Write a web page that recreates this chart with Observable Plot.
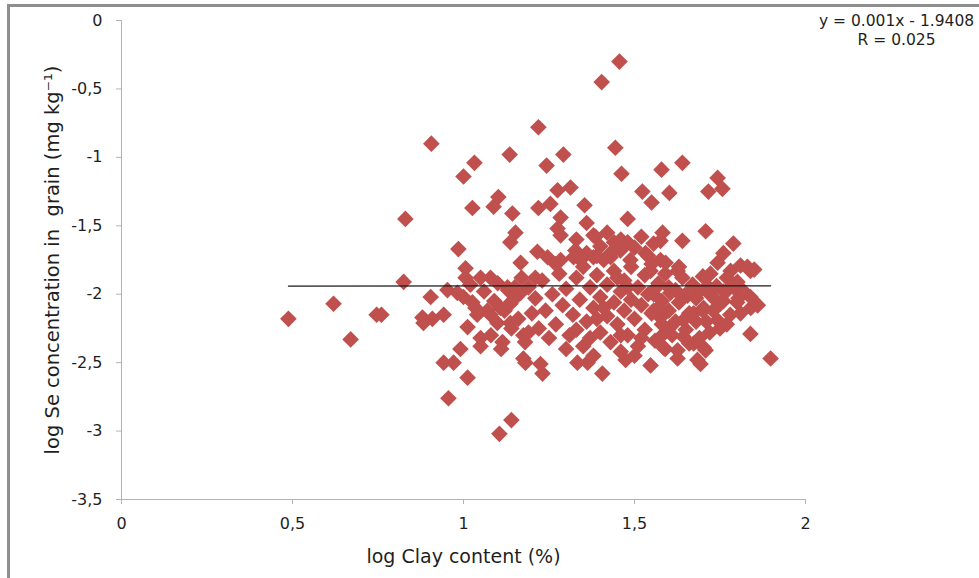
<!DOCTYPE html>
<html>
<head>
<meta charset="utf-8">
<script src="https://cdn.jsdelivr.net/npm/d3@7"></script>
<script src="https://cdn.jsdelivr.net/npm/@observablehq/plot@0.6"></script>
<style>
  html, body { margin: 0; padding: 0; background: #fff; overflow: hidden; }
  #chart { position: absolute; left: 0; top: 0; }
  #frame { position: absolute; left: 7px; top: 4px; width: 1000px; height: 600px;
           border-left: 3px solid #8e8e8e; border-top: 3px solid #8e8e8e; pointer-events: none; }
  svg text { white-space: pre; }
</style>
</head>
<body>
<div id="chart"></div>
<div id="frame"></div>
<script>
// Scattered samples: log clay content (%) and log Se in grain (mg/kg)
const clayOuter = [
  0.488, 0.620, 0.670, 0.746, 0.760, 0.825, 0.830, 0.906, 1.404, 1.456,
  1.219, 1.444, 1.135, 1.292, 1.243, 1.032, 1.000, 1.026, 1.102, 1.088,
  1.143, 1.152, 1.137, 0.985, 1.167, 1.219, 1.254, 1.275, 1.313, 1.284,
  1.275, 1.284, 1.216, 1.246, 1.284, 1.322, 1.006, 1.050, 1.079, 1.462,
  1.579, 1.640, 1.743, 1.716, 1.757, 1.523, 1.550, 1.602, 1.354, 1.480,
  1.708, 1.386, 1.440, 1.480, 1.582, 1.640, 1.556, 1.789, 1.760, 1.810,
  1.839, 1.743, 1.626, 1.327, 1.342, 1.380, 1.430, 1.459, 1.488, 1.532,
  1.576, 1.576, 1.547, 1.006, 0.953, 0.904, 0.982, 1.000, 1.026, 1.035,
  1.129, 1.137, 1.108, 1.167, 0.880, 0.909, 0.942, 0.883, 1.012, 1.079,
  1.099, 1.137, 1.050, 1.114, 1.175, 0.991, 0.942, 0.971, 1.175, 1.012,
  0.956, 1.140, 1.105, 1.181, 1.225, 1.231, 1.333, 1.363, 1.406, 1.474,
  1.547, 1.693, 1.626, 1.898, 1.839, 1.591, 1.830, 1.839, 1.860, 1.810,
  1.708, 1.684, 1.585, 1.556, 1.605, 1.655, 1.713, 1.772, 1.804, 1.751,
  1.702, 1.673, 1.643, 1.743, 1.605, 1.643, 1.673, 1.702, 1.585, 1.626,
  1.556, 1.576, 1.801, 1.722, 1.781, 1.210
];
const seOuter = [
  -2.18, -2.07, -2.33, -2.15, -2.15, -1.91, -1.45, -0.90, -0.45, -0.30,
  -0.78, -0.93, -0.98, -0.98, -1.06, -1.04, -1.14, -1.37, -1.29, -1.36,
  -1.41, -1.55, -1.62, -1.67, -1.77, -1.37, -1.34, -1.24, -1.22, -1.44,
  -1.52, -1.57, -1.69, -1.73, -1.75, -1.73, -1.81, -1.88, -1.88, -1.12,
  -1.09, -1.04, -1.15, -1.25, -1.23, -1.25, -1.33, -1.26, -1.35, -1.45,
  -1.54, -1.58, -1.62, -1.62, -1.55, -1.61, -1.63, -1.63, -1.70, -1.79,
  -1.83, -1.77, -1.83, -1.68, -1.75, -1.73, -1.73, -1.68, -1.75, -1.70,
  -1.61, -1.75, -1.83, -1.88, -1.97, -2.02, -1.99, -2.02, -2.06, -2.10,
  -1.95, -2.07, -2.10, -1.99, -2.17, -2.18, -2.15, -2.21, -2.24, -2.15,
  -2.21, -2.21, -2.32, -2.35, -2.30, -2.40, -2.50, -2.50, -2.47, -2.61,
  -2.76, -2.92, -3.02, -2.50, -2.51, -2.58, -2.50, -2.50, -2.58, -2.48,
  -2.52, -2.51, -2.47, -2.47, -2.29, -1.77, -1.80, -2.02, -2.08, -2.14,
  -2.41, -2.48, -2.29, -2.00, -1.99, -2.01, -1.94, -1.97, -2.03, -2.07,
  -2.10, -2.14, -2.19, -2.19, -2.24, -2.31, -2.36, -2.39, -2.39, -2.41,
  -2.12, -2.17, -1.91, -1.85, -1.83, -1.88
];

// Densely packed samples in the middle of the cloud
const clayCore = [
  1.19, 1.21, 1.23, 1.24, 1.26, 1.27, 1.28, 1.29, 1.30, 1.31,
  1.32, 1.33, 1.34, 1.35, 1.35, 1.36, 1.37, 1.38, 1.38, 1.39,
  1.40, 1.40, 1.41, 1.42, 1.42, 1.43, 1.44, 1.44, 1.45, 1.46,
  1.46, 1.47, 1.47, 1.48, 1.49, 1.49, 1.50, 1.51, 1.51, 1.52,
  1.53, 1.53, 1.54, 1.55, 1.55, 1.56, 1.57, 1.58, 1.58, 1.59,
  1.60, 1.61, 1.62, 1.63, 1.64, 1.65, 1.66, 1.67, 1.68, 1.69,
  1.70, 1.71, 1.72, 1.73, 1.74, 1.75, 1.76, 1.77, 1.78,
  1.22, 1.25, 1.27, 1.30, 1.33, 1.36, 1.37, 1.39, 1.41, 1.43,
  1.45, 1.46, 1.48, 1.50, 1.52, 1.54, 1.56, 1.57, 1.59, 1.60,
  1.62, 1.63, 1.65, 1.66, 1.68, 1.69, 1.70, 1.72, 1.74, 1.76,
  1.77, 1.79, 1.80, 1.82, 1.84, 1.85, 1.86,
  1.02, 1.04, 1.06, 1.08, 1.09, 1.10, 1.12, 1.13, 1.14, 1.15,
  1.16, 1.17, 1.18, 1.20, 1.15, 1.11, 1.07, 1.05, 1.13, 1.19,
  1.33, 1.36, 1.38, 1.40, 1.42, 1.44, 1.46, 1.50, 1.52, 1.39
];
const seCore = [
  -1.95, -2.03, -1.90, -2.12, -2.00, -2.22, -1.85, -2.08, -1.96, -2.30,
  -2.15, -1.88, -2.04, -2.38, -1.80, -2.20, -1.95, -2.10, -2.45, -1.86,
  -2.02, -2.28, -1.75, -2.16, -1.93, -2.35, -2.06, -1.83, -2.22, -1.98,
  -2.42, -1.90, -2.12, -2.30, -1.80, -2.04, -2.18, -1.95, -2.38, -2.08,
  -1.86, -2.26, -2.00, -2.14, -1.78, -2.34, -1.92, -2.22, -2.05, -1.85,
  -2.12, -2.30, -1.97, -2.06, -1.88, -2.26, -2.14, -1.93, -2.03, -2.32,
  -1.87, -2.20, -2.00, -2.12, -1.94, -2.25, -2.05, -1.88, -2.15,
  -2.25, -2.32, -1.78, -2.40, -2.26, -1.70, -2.32, -2.18, -2.10, -1.70,
  -1.88, -2.30, -1.95, -2.45, -2.32, -1.72, -1.96, -2.10, -2.40, -1.95,
  -2.20, -1.80, -2.00, -2.36, -2.20, -1.98, -2.12, -2.28, -2.05, -1.98,
  -2.22, -1.95, -2.06, -1.98, -2.10, -1.82, -2.08,
  -1.93, -2.15, -1.98, -2.30, -2.05, -1.92, -2.12, -1.97, -2.25, -2.03,
  -2.18, -1.88, -2.35, -2.14, -1.95, -2.40, -2.12, -2.38, -2.08, -2.28,
  -1.60, -1.48, -1.57, -1.65, -1.55, -1.68, -1.60, -1.66, -1.58, -1.72
];

// Linear fit reported on the chart
const slope = 0.001;
const intercept = -1.9408;
const rValue = 0.025;

const xTicks = [0, 0.5, 1, 1.5, 2];
const yTicks = [0, -0.5, -1, -1.5, -2, -2.5, -3, -3.5];

const points = [
  ...clayOuter.map((c, i) => ({clay: c, se: seOuter[i]})),
  ...clayCore.map((c, i) => ({clay: c, se: seCore[i]}))
];
const [clayMin, clayMax] = d3.extent(points, d => d.clay);
const trend = [clayMin, clayMax].map(c => ({clay: c, se: slope * c + intercept}));

const comma = d => String(d).replace(".", ",");
const eqLine = `y = ${slope}x - ${Math.abs(intercept)}`;
const rLine = `R = ${rValue}`;

const axisGray = "#b3b3b3";
const ink = "#1f1f1f";

const chart = Plot.plot({
  width: 979,
  height: 578,
  marginLeft: 121,
  marginRight: 174,
  marginTop: 20,
  marginBottom: 79,
  style: {fontFamily: "DejaVu Sans", fontSize: "16px", color: ink, background: "#fff"},
  x: {domain: [0, 2]},
  y: {domain: [-3.5, 0]},
  marks: [
    Plot.ruleX([0], {stroke: axisGray, strokeWidth: 1}),
    Plot.ruleY([-3.5], {stroke: axisGray, strokeWidth: 1}),
    Plot.axisX(xTicks, {tickFormat: comma, tickSize: 5, tickPadding: 13, stroke: axisGray, fill: ink, fontSize: 16, label: null}),
    Plot.axisY(yTicks, {tickFormat: comma, tickSize: 5, tickPadding: 14, stroke: axisGray, fill: ink, fontSize: 16, label: null}),
    Plot.dot(points, {x: "clay", y: "se", symbol: "diamond2", r: 7.5, fill: "#c0504d", stroke: "none"}),
    Plot.line(trend, {x: "clay", y: "se", stroke: "#1a1a1a", strokeWidth: 1.2}),
    Plot.text([eqLine], {frameAnchor: "top-right", dx: 91, dy: 1, text: d => d, textAnchor: "middle", lineAnchor: "middle", fontSize: 15.5, fill: ink}),
    Plot.text([rLine], {frameAnchor: "top-right", dx: 91, dy: 20, text: d => d, textAnchor: "middle", lineAnchor: "middle", fontSize: 15.5, fill: ink}),
    Plot.text(["log Clay content (%)"], {frameAnchor: "bottom", dy: 57, text: d => d, textAnchor: "middle", lineAnchor: "middle", fontSize: 19, fill: ink}),
    Plot.text(["log Se concentration in  grain (mg kg\u207B\u00B9)"], {frameAnchor: "left", dx: -69, text: d => d, rotate: -90, textAnchor: "middle", lineAnchor: "middle", fontSize: 19.5, fill: ink})
  ]
});
document.getElementById("chart").append(chart);
</script>
</body>
</html>
